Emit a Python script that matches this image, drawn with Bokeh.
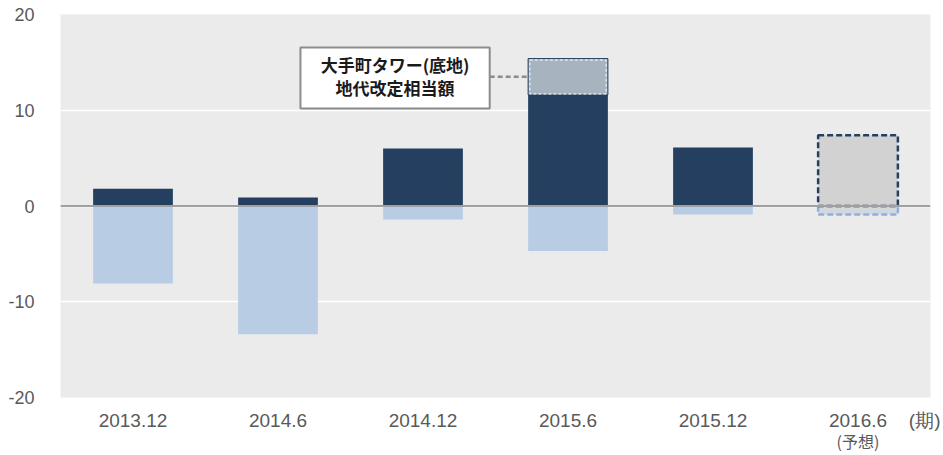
from bokeh.plotting import figure
from bokeh.models import Range1d, FixedTicker, Span, ColumnDataSource, LinearAxis
from bokeh.core.properties import value
from bokeh.embed import file_html
from bokeh.resources import INLINE

# ---- data ----
periods = ["2013.12", "2014.6", "2014.12", "2015.6", "2015.12", "2016.6"]
positive = [1.8, 0.9, 6.0, 11.6, 6.1, 0.0]
negative = [-8.1, -13.4, -1.4, -4.7, -0.9, 0.0]
# Otemachi Tower land rent revision (2015.6) stacked on top
tower_base = 11.6
tower_top = 15.4
# forecast 2016.6
forecast_pos = 7.4
forecast_neg = -0.9
y_ticks = [-20, -10, 0, 10, 20]
y_tick_labels = ["-20", "-10", "0", "10", "20"]
annot_lines = ["大手町タワー(底地)", "地代改定相当額"]
period_unit = "(期)"
forecast_note = "(予想)"

DARK = "#243f60"
LIGHT = "#b8cde4"
BG = "#ebebeb"

W, H = 940, 455
p = figure(width=W, height=H, output_backend="svg", toolbar_location=None,
           x_range=Range1d(0, len(periods)), y_range=Range1d(-20, 20),
           min_border_left=60, min_border_right=10, min_border_top=14, min_border_bottom=58)
p.background_fill_color = BG
p.border_fill_color = "white"
p.outline_line_color = None

xs = [i + 0.5 for i in range(len(periods))]
bw = 0.55
src = ColumnDataSource(dict(x=xs[:5], pos=positive[:5], neg=negative[:5]))

# grid
p.xgrid.grid_line_color = None
p.ygrid.ticker = FixedTicker(ticks=y_ticks)
p.ygrid.grid_line_color = "white"
p.ygrid.grid_line_width = 1.5

# bars
p.vbar(x="x", top="pos", bottom=0, width=bw, source=src, fill_color=DARK, line_color=None)
p.vbar(x="x", top=0, bottom="neg", width=bw, source=src, fill_color=LIGHT, line_color=None)

# 2015.6 tower land portion
i15 = periods.index("2015.6")
p.quad(left=[xs[i15] - bw / 2], right=[xs[i15] + bw / 2], bottom=[tower_base], top=[tower_top],
       fill_color="#a8b3c0", line_color=DARK, line_width=1)
p.quad(left=[xs[i15] - bw / 2 + 0.012], right=[xs[i15] + bw / 2 - 0.012],
       bottom=[tower_base + 0.1], top=[tower_top - 0.15],
       fill_color=None, line_color="white", line_width=1, line_dash="3 2")

# 2016.6 forecast
i16 = periods.index("2016.6")
p.quad(left=[xs[i16] - bw / 2], right=[xs[i16] + bw / 2], bottom=[forecast_neg], top=[0],
       fill_color="#d3d8df", line_color="#8fb0de", line_width=2.5, line_dash="6 3")
p.quad(left=[xs[i16] - bw / 2], right=[xs[i16] + bw / 2], bottom=[0], top=[forecast_pos],
       fill_color="#d2d2d2", line_color=DARK, line_width=2.5, line_dash="6 3")

# zero line
p.add_layout(Span(location=0, dimension="width", line_color="#a0a0a0", line_width=2))

# annotation box + connector
bx0, bx1, by0, by1 = 1.655, 2.96, 10.18, 16.55
p.quad(left=[bx0], right=[bx1], bottom=[by0], top=[by1],
       fill_color="white", line_color="#8c8c8c", line_width=2)
p.segment(x0=[bx1], y0=[(tower_base + tower_top) / 2], x1=[xs[i15] - bw / 2],
          y1=[(tower_base + tower_top) / 2], line_color="#8c8c8c", line_width=2.5, line_dash="5 3")
p.text(x=[(bx0 + bx1) / 2] * 2, y=[14.8, 12.4], text=annot_lines,
       text_font=value("Noto Sans CJK JP"), text_font_size="17px", text_color="#1a1a1a",
       text_font_style="bold", text_align="center", text_baseline="middle")

# axes
p.yaxis.ticker = FixedTicker(ticks=y_ticks)
p.yaxis.major_label_overrides = {t: s for t, s in zip(y_ticks, y_tick_labels)}
p.yaxis.axis_line_color = None
p.yaxis.major_tick_line_color = None
p.yaxis.minor_tick_line_color = None
p.yaxis.major_label_text_font = "Liberation Sans"
p.yaxis.major_label_text_font_size = "18px"
p.yaxis.major_label_text_color = "#595959"
p.yaxis.major_label_standoff = 20

x_end = len(periods)
p.xaxis.ticker = FixedTicker(ticks=xs + [x_end])
labels = {x: lab for x, lab in zip(xs, periods)}
labels[x_end] = period_unit
p.xaxis.major_label_overrides = labels
p.xaxis.axis_line_color = None
p.xaxis.major_tick_line_color = None
p.xaxis.minor_tick_line_color = None
p.xaxis.major_label_text_font = "Liberation Sans"
p.xaxis.major_label_text_font_size = "19px"
p.xaxis.major_label_text_color = "#595959"
p.xaxis.major_label_standoff = 6

# second axis below for the forecast note
ax2 = LinearAxis(ticker=FixedTicker(ticks=[xs[i16]]),
                 major_label_overrides={xs[i16]: forecast_note})
ax2.axis_line_color = None
ax2.major_tick_line_color = None
ax2.minor_tick_line_color = None
ax2.major_label_text_font = "Noto Sans CJK JP"
ax2.major_label_text_font_size = "16px"
ax2.major_label_text_color = "#595959"
ax2.major_label_standoff = -11
p.add_layout(ax2, "below")

open("out.html", "w").write(file_html(p, INLINE))
